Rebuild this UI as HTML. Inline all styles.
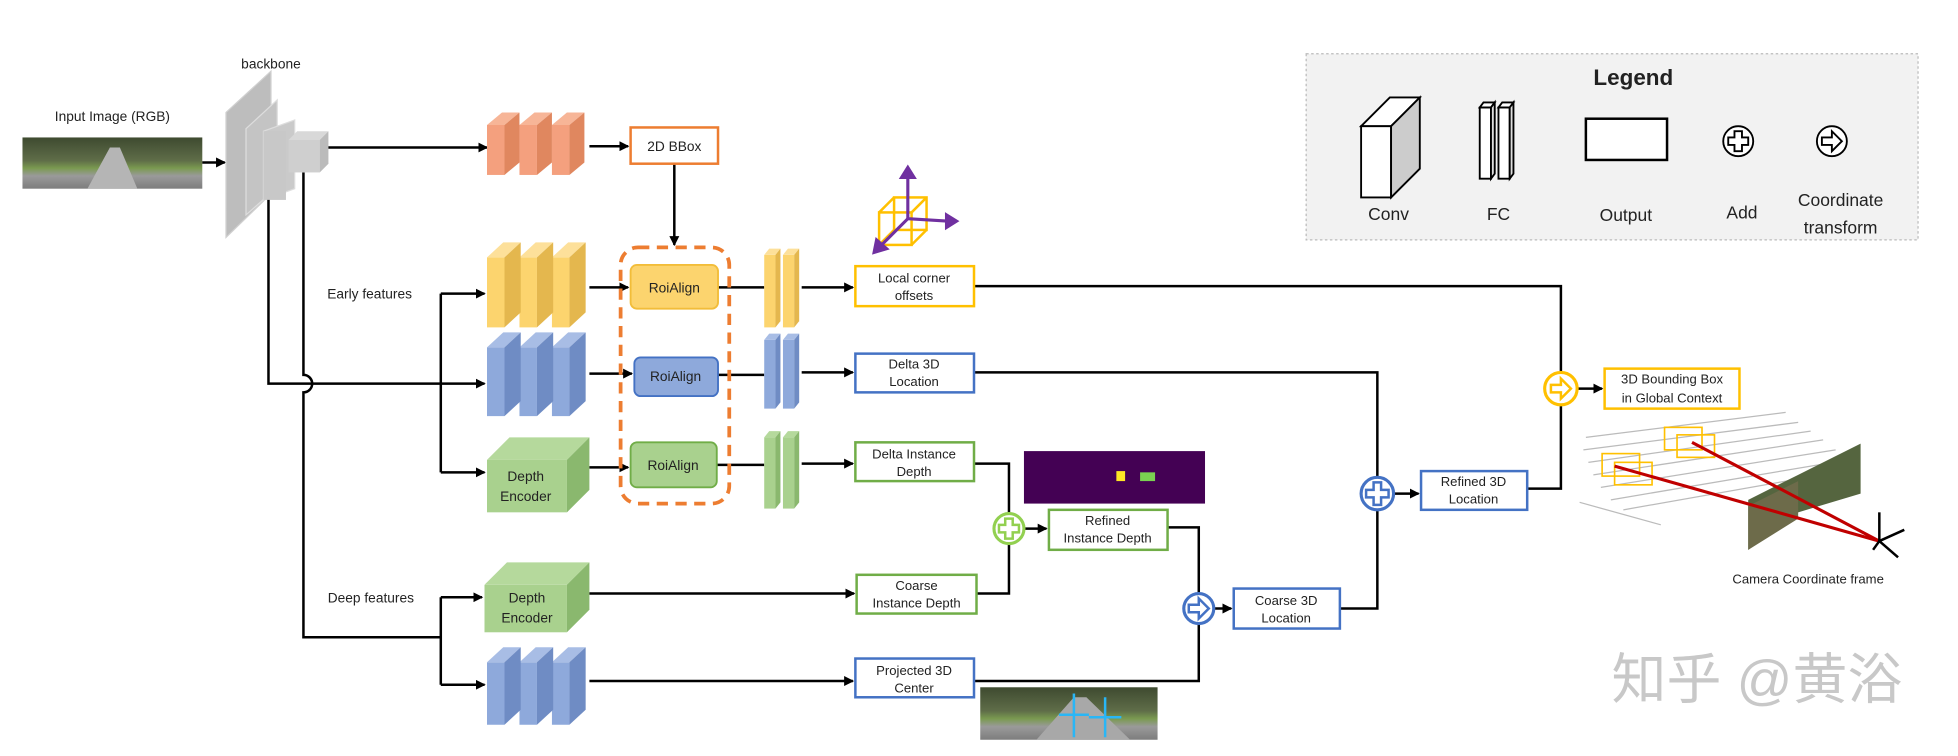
<!DOCTYPE html>
<html><head><meta charset="utf-8"><style>
html,body{margin:0;padding:0;background:#fff;}
svg{display:block;}
text{font-family:"Liberation Sans","Noto Sans CJK SC",sans-serif;fill:#222;}
</style></head><body>
<svg width="1958" height="756" viewBox="0 0 1568 605" preserveAspectRatio="none" xmlns="http://www.w3.org/2000/svg">
<defs>
<marker id="ah" markerWidth="8" markerHeight="8" refX="7" refY="4" orient="auto" markerUnits="userSpaceOnUse"><path d="M0,0 L8,4 L0,8 z" fill="#000"/></marker>
<linearGradient id="road" x1="0" y1="0" x2="0" y2="1"><stop offset="0" stop-color="#3e4a30"/><stop offset="0.45" stop-color="#5f6d48"/><stop offset="0.6" stop-color="#7a9a50"/><stop offset="0.75" stop-color="#9a9a9a"/><stop offset="1" stop-color="#7d7d7d"/></linearGradient>
</defs>
<rect width="1568" height="605" fill="#fff"/>

<text x="90" y="97" font-size="11" text-anchor="middle">Input Image (RGB)</text>
<rect x="18" y="110" width="144" height="41" fill="url(#road)"/>
<polygon points="70,151 88,118 96,118 110,151" fill="#b5b5b5"/>
<line x1="162" y1="130" x2="180" y2="130" stroke="#000" stroke-width="2" marker-end="url(#ah)"/>

<text x="217" y="55" font-size="11" text-anchor="middle">backbone</text>
<polygon points="181,90 217,57 217,155 181,190" fill="#bdbdbd" stroke="#d0d0d0"/>
<polygon points="197,103 222,80 222,150 197,172" fill="#c4c4c4" stroke="#ddd"/>
<polygon points="211,105 236,96 236,151 211,160" fill="#cacaca" stroke="#ddd"/>
<rect x="211" y="105" width="18" height="55" fill="#c8c8c8"/>
<polygon points="231,112 238,105 263,105 256,112" fill="#d8d8d8"/>
<rect x="231" y="112" width="25" height="26" fill="#cfcfcf"/>
<polygon points="256,112 263,105 263,131 256,138" fill="#bbb"/>
<line x1="263" y1="118" x2="390" y2="118" stroke="#000" stroke-width="2" marker-end="url(#ah)"/>

<g stroke="#000" stroke-width="2" fill="none">
<path d="M215,160 V307 H388" marker-end="url(#ah)"/>
<path d="M243,138 V300 A7,7 0 0 1 243,314 V510 H353"/>
<path d="M353,478 V548"/>
<path d="M353,478 H386" marker-end="url(#ah)"/>
<path d="M353,548 H388" marker-end="url(#ah)"/>
<path d="M353,235 V378"/>
<path d="M353,235 H388" marker-end="url(#ah)"/>
<path d="M353,378 H388" marker-end="url(#ah)"/>
<path d="M472,117 H503" marker-end="url(#ah)"/>
<path d="M540,131 V196" marker-end="url(#ah)"/>
<path d="M472,230 H503" marker-end="url(#ah)"/>
<path d="M472,299 H506" marker-end="url(#ah)"/>
<path d="M472,374 H503" marker-end="url(#ah)"/>
<path d="M575,230 H612"/><path d="M575,300 H612"/><path d="M574,372 H612"/>
<path d="M642,230 H683" marker-end="url(#ah)"/>
<path d="M642,298 H683" marker-end="url(#ah)"/>
<path d="M642,371 H683" marker-end="url(#ah)"/>
<path d="M472,475 H684" marker-end="url(#ah)"/>
<path d="M472,545 H683" marker-end="url(#ah)"/>
<path d="M780,229 H1250 V298"/>
<path d="M1250,324 V391 H1223"/>
<path d="M780,298 H1103 V382"/>
<path d="M1103,408 V487 H1073"/>
<path d="M780,371 H808 V411"/>
<path d="M782,475 H808 V435"/>
<path d="M820,423 H838" marker-end="url(#ah)"/>
<path d="M935,422 H960 V475"/>
<path d="M780,545 H960 V499"/>
<path d="M972,487 H986" marker-end="url(#ah)"/>
<path d="M1116,395 H1136" marker-end="url(#ah)"/>
<path d="M1263,311 H1283" marker-end="url(#ah)"/>
</g>

<g>
<g fill="#f4a07e"><rect x="390" y="100" width="14" height="40"/><rect x="416" y="100" width="14" height="40"/><rect x="442" y="100" width="14" height="40"/></g>
<g fill="#f7b597"><polygon points="390,100 402,90 416,90 404,100"/><polygon points="416,100 428,90 442,90 430,100"/><polygon points="442,100 454,90 468,90 456,100"/></g>
<g fill="#e0875f"><polygon points="404,100 416,90 416,130 404,140"/><polygon points="430,100 442,90 442,130 430,140"/><polygon points="456,100 468,90 468,130 456,140"/></g>
</g>
<g>
<g fill="#fcd46e"><rect x="390" y="206" width="14" height="56"/><rect x="416" y="206" width="14" height="56"/><rect x="442" y="206" width="14" height="56"/></g>
<g fill="#fde09a"><polygon points="390,206 403,194 417,194 404,206"/><polygon points="416,206 429,194 443,194 430,206"/><polygon points="442,206 455,194 469,194 456,206"/></g>
<g fill="#e4b74e"><polygon points="404,206 417,194 417,250 404,262"/><polygon points="430,206 443,194 443,250 430,262"/><polygon points="456,206 469,194 469,250 456,262"/></g>
</g>
<g>
<g fill="#8ea9db"><rect x="390" y="278" width="14" height="55"/><rect x="416" y="278" width="14" height="55"/><rect x="442" y="278" width="14" height="55"/></g>
<g fill="#a8bde5"><polygon points="390,278 403,266 417,266 404,278"/><polygon points="416,278 429,266 443,266 430,278"/><polygon points="442,278 455,266 469,266 456,278"/></g>
<g fill="#6f8cc4"><polygon points="404,278 417,266 417,321 404,333"/><polygon points="430,278 443,266 443,321 430,333"/><polygon points="456,278 469,266 469,321 456,333"/></g>
</g>
<g>
<g fill="#8ea9db"><rect x="390" y="530" width="14" height="50"/><rect x="416" y="530" width="14" height="50"/><rect x="442" y="530" width="14" height="50"/></g>
<g fill="#a8bde5"><polygon points="390,530 403,518 417,518 404,530"/><polygon points="416,530 429,518 443,518 430,530"/><polygon points="442,530 455,518 469,518 456,530"/></g>
<g fill="#6f8cc4"><polygon points="404,530 417,518 417,568 404,580"/><polygon points="430,530 443,518 443,568 430,580"/><polygon points="456,530 469,518 469,568 456,580"/></g>
</g>
<g>
<polygon points="390,368 408,350 472,350 454,368" fill="#b5d99c"/>
<rect x="390" y="368" width="64" height="42" fill="#a9d18e"/>
<polygon points="454,368 472,350 472,392 454,410" fill="#8ab86e"/>
<text x="421" y="385" font-size="11" text-anchor="middle">Depth</text>
<text x="421" y="401" font-size="11" text-anchor="middle">Encoder</text>
<polygon points="388,468 406,450 472,450 454,468" fill="#b5d99c"/>
<rect x="388" y="468" width="66" height="38" fill="#a9d18e"/>
<polygon points="454,468 472,450 472,488 454,506" fill="#8ab86e"/>
<text x="422" y="482" font-size="11" text-anchor="middle">Depth</text>
<text x="422" y="498" font-size="11" text-anchor="middle">Encoder</text>
</g>

<text x="296" y="239" font-size="11" text-anchor="middle">Early features</text>
<text x="297" y="482" font-size="11" text-anchor="middle">Deep features</text>

<rect x="505" y="102" width="70" height="29" fill="#fff" stroke="#ed7d31" stroke-width="2"/>
<text x="540" y="121" font-size="11" text-anchor="middle">2D BBox</text>

<rect x="497" y="198" width="87" height="205" rx="14" fill="none" stroke="#ed7d31" stroke-width="3" stroke-dasharray="9,6"/>
<rect x="505" y="212" width="70" height="35" rx="5" fill="#fcd46e" stroke="#f2bd3a" stroke-width="1.5"/>
<text x="540" y="234" font-size="11" text-anchor="middle">RoiAlign</text>
<rect x="508" y="286" width="67" height="31" rx="5" fill="#8ea9db" stroke="#4472c4" stroke-width="1.5"/>
<text x="541" y="305" font-size="11" text-anchor="middle">RoiAlign</text>
<rect x="505" y="354" width="69" height="36" rx="5" fill="#a9d18e" stroke="#70ad47" stroke-width="1.5"/>
<text x="539" y="376" font-size="11" text-anchor="middle">RoiAlign</text>

<g>
<rect x="612" y="204" width="9" height="58" fill="#fcd46e"/><polygon points="612,204 616,199 625,199 621,204" fill="#fde09a"/><polygon points="621,204 625,199 625,257 621,262" fill="#e4b74e"/>
<rect x="627" y="204" width="9" height="58" fill="#fcd46e"/><polygon points="627,204 631,199 640,199 636,204" fill="#fde09a"/><polygon points="636,204 640,199 640,257 636,262" fill="#e4b74e"/>
<rect x="612" y="272" width="9" height="55" fill="#8ea9db"/><polygon points="612,272 616,267 625,267 621,272" fill="#a8bde5"/><polygon points="621,272 625,267 625,322 621,327" fill="#6f8cc4"/>
<rect x="627" y="272" width="9" height="55" fill="#8ea9db"/><polygon points="627,272 631,267 640,267 636,272" fill="#a8bde5"/><polygon points="636,272 640,267 640,322 636,327" fill="#6f8cc4"/>
<rect x="612" y="350" width="9" height="57" fill="#a9d18e"/><polygon points="612,350 616,345 625,345 621,350" fill="#b5d99c"/><polygon points="621,350 625,345 625,402 621,407" fill="#8ab86e"/>
<rect x="627" y="350" width="9" height="57" fill="#a9d18e"/><polygon points="627,350 631,345 640,345 636,350" fill="#b5d99c"/><polygon points="636,350 640,345 640,402 636,407" fill="#8ab86e"/>
</g>

<g fill="none" stroke="#ffc000" stroke-width="2">
<rect x="704" y="170" width="26" height="26"/><rect x="716" y="158" width="26" height="26"/>
<line x1="704" y1="170" x2="716" y2="158"/><line x1="730" y1="170" x2="742" y2="158"/><line x1="704" y1="196" x2="716" y2="184"/><line x1="730" y1="196" x2="742" y2="184"/>
</g>
<g stroke="#7030a0" stroke-width="2.5" fill="#7030a0">
<line x1="727" y1="175" x2="727" y2="140"/><polygon points="722,142 727,134 732,142"/>
<line x1="727" y1="175" x2="760" y2="177"/><polygon points="758,172 766,177 758,182"/>
<line x1="727" y1="175" x2="706" y2="196"/><polygon points="702,192 700,202 710,199"/>
</g>

<g fill="#fff" stroke-width="2">
<rect x="685" y="213" width="95" height="32" stroke="#ffc000"/>
<rect x="685" y="283" width="95" height="31" stroke="#4472c4"/>
<rect x="685" y="354" width="95" height="31" stroke="#70ad47"/>
<rect x="686" y="460" width="96" height="31" stroke="#70ad47"/>
<rect x="685" y="527" width="95" height="31" stroke="#4472c4"/>
<rect x="840" y="408" width="95" height="32" stroke="#70ad47"/>
<rect x="988" y="471" width="85" height="32" stroke="#4472c4"/>
<rect x="1138" y="377" width="85" height="31" stroke="#4472c4"/>
<rect x="1285" y="295" width="108" height="32" stroke="#ffc000"/>
</g>
<g font-size="10.5" text-anchor="middle">
<text x="732" y="226">Local corner</text><text x="732" y="240">offsets</text>
<text x="732" y="295">Delta 3D</text><text x="732" y="309">Location</text>
<text x="732" y="367">Delta Instance</text><text x="732" y="381">Depth</text>
<text x="734" y="472">Coarse</text><text x="734" y="486">Instance Depth</text>
<text x="732" y="540">Projected 3D</text><text x="732" y="554">Center</text>
<text x="887" y="420">Refined</text><text x="887" y="434">Instance Depth</text>
<text x="1030" y="484">Coarse 3D</text><text x="1030" y="498">Location</text>
<text x="1180" y="389">Refined 3D</text><text x="1180" y="403">Location</text>
<text x="1339" y="307">3D Bounding Box</text><text x="1339" y="322">in Global Context</text>
</g>

<rect x="820" y="361" width="145" height="42" fill="#440154"/>
<rect x="894" y="377" width="7" height="8" fill="#fde725"/>
<rect x="913" y="378" width="12" height="7" fill="#7ad151"/>

<g fill="#fff" stroke-width="2.5">
<circle cx="808" cy="423" r="12" stroke="#92d050"/>
<circle cx="960" cy="487" r="12" stroke="#4472c4"/>
<circle cx="1103" cy="395" r="13" stroke="#4472c4"/>
<circle cx="1250" cy="311" r="13" stroke="#ffc000"/>
</g>
<g fill="none" stroke-width="2">
<path d="M805,415 h6 v5 h5 v6 h-5 v5 h-6 v-5 h-5 v-6 h5 z" stroke="#92d050"/>
<path d="M1100,386 h6 v6 h6 v6 h-6 v6 h-6 v-6 h-6 v-6 h6 z" stroke="#4472c4"/>
<path d="M952,484 h8 v-5 l8,8 l-8,8 v-5 h-8 z" stroke="#4472c4"/>
<path d="M1242,308 h8 v-5 l8,8 l-8,8 v-5 h-8 z" stroke="#ffc000"/>
</g>

<rect x="785" y="550" width="142" height="42" fill="url(#road)"/>
<polygon points="830,592 860,558 870,558 905,592" fill="#a8a8a8"/>
<g stroke="#29b6f6" stroke-width="2"><line x1="860" y1="555" x2="860" y2="590"/><line x1="848" y1="572" x2="872" y2="572"/><line x1="885" y1="558" x2="885" y2="590"/><line x1="872" y1="574" x2="898" y2="574"/></g>

<g stroke="#bbb" stroke-width="1" fill="none">
<path d="M1270,350 L1430,330"/><path d="M1268,360 L1440,338"/><path d="M1272,370 L1450,345"/><path d="M1276,380 L1460,352"/><path d="M1282,390 L1470,360"/><path d="M1290,400 L1480,368"/><path d="M1300,408 L1470,378"/><path d="M1265,402 L1330,420"/>
</g>
<polygon points="1400,400 1440,380 1490,355 1490,395 1440,410 1400,440" fill="#55653f"/>
<polygon points="1400,405 1440,385 1440,415 1400,440" fill="#6d6b4a"/>
<g fill="none" stroke="#ffc000" stroke-width="1.3">
<rect x="1283" y="363" width="30" height="18"/><rect x="1293" y="370" width="30" height="18"/>
<rect x="1333" y="342" width="30" height="18"/><rect x="1343" y="348" width="30" height="18"/>
</g>
<g stroke="#c00000" stroke-width="2.5"><line x1="1293" y1="373" x2="1505" y2="433"/><line x1="1355" y1="354" x2="1505" y2="433"/></g>
<g stroke="#000" stroke-width="2"><line x1="1505" y1="433" x2="1505" y2="410"/><line x1="1505" y1="433" x2="1525" y2="424"/><line x1="1505" y1="433" x2="1520" y2="446"/><line x1="1505" y1="433" x2="1500" y2="440"/></g>
<text x="1448" y="467" font-size="10.5" text-anchor="middle">Camera Coordinate frame</text>

<rect x="1046" y="43" width="490" height="149" fill="#f2f2f2" stroke="#bbb" stroke-dasharray="2,2"/>
<text x="1308" y="68" font-size="18" font-weight="bold" text-anchor="middle">Legend</text>
<g stroke="#000" stroke-width="1.5">
<polygon points="1090,101 1113,78 1137,78 1114,101" fill="#fff"/>
<rect x="1090" y="101" width="24" height="57" fill="#fff"/>
<polygon points="1114,101 1137,78 1137,135 1114,158" fill="#ccc"/>
<rect x="1185" y="86" width="9" height="57" fill="#fff"/><polygon points="1185,86 1188,82 1197,82 1194,86" fill="#fff"/><polygon points="1194,86 1197,82 1197,139 1194,143" fill="#ddd"/>
<rect x="1200" y="86" width="9" height="57" fill="#fff"/><polygon points="1200,86 1203,82 1212,82 1209,86" fill="#fff"/><polygon points="1209,86 1212,82 1212,139 1209,143" fill="#ddd"/>
<rect x="1270" y="95" width="65" height="33" fill="#fff" stroke-width="2"/>
<circle cx="1392" cy="113" r="12" fill="#fff"/>
<path d="M1389,105 h6 v5 h5 v6 h-5 v5 h-6 v-5 h-5 v-6 h5 z" fill="none"/>
<circle cx="1467" cy="113" r="12" fill="#fff"/>
<path d="M1459,110 h8 v-5 l8,8 l-8,8 v-5 h-8 z" fill="none"/>
</g>
<g font-size="14" text-anchor="middle">
<text x="1112" y="176">Conv</text><text x="1200" y="176">FC</text><text x="1302" y="177">Output</text><text x="1395" y="175">Add</text>
<text x="1474" y="165">Coordinate</text><text x="1474" y="187">transform</text>
</g>

<text x="1407" y="559" font-size="44" text-anchor="middle" style="fill:#c8c8c8">知乎 @黄浴</text>
</svg>
</body></html>
